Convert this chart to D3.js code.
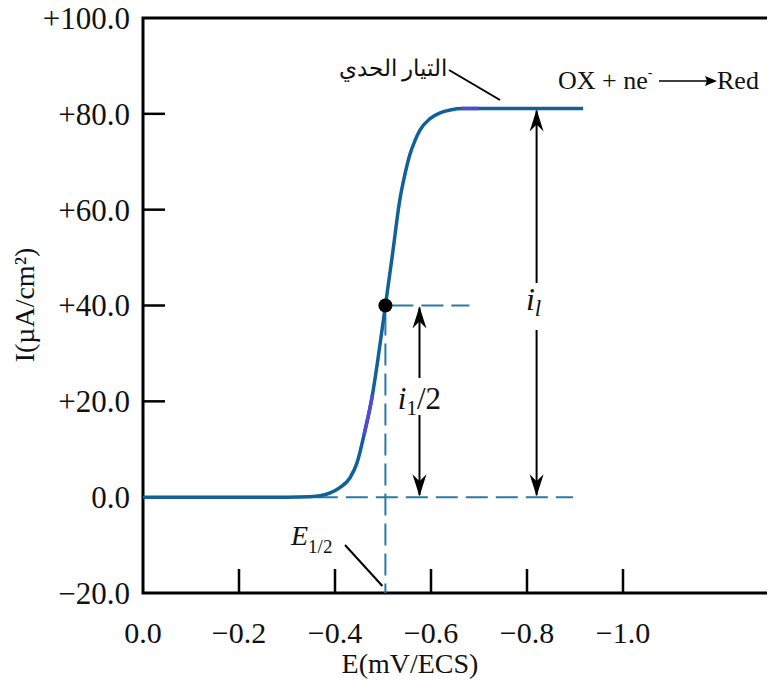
<!DOCTYPE html>
<html>
<head>
<meta charset="utf-8">
<script src="https://cdn.jsdelivr.net/npm/d3@7"></script>
<style>
  body { margin: 0; background: #fff; }
  svg { display: block; }
  text { font-family: "Liberation Serif", "Times New Roman", serif; fill: #111; }
</style>
</head>
<body>
<div id="chart"></div>
<script>
// data
var potential = [0, -0.30, -0.348, -0.369, -0.390, -0.410, -0.431, -0.446, -0.4625, -0.477, -0.49, -0.505, -0.519, -0.535, -0.546, -0.556, -0.567, -0.577, -0.598, -0.619, -0.640, -0.667, -0.917];
var current   = [0, 0, 0.1, 0.3, 0.9, 2.0, 4.0, 7.2, 13.9, 20.8, 29.2, 40, 50.1, 62, 67.5, 71.5, 74.5, 76.6, 79.0, 80.2, 80.8, 81.1, 81.1];
var highlight = [[-0.46, -0.478], [-0.662, -0.70]];   // purple bits on the curve

var xTicks = [0, -0.2, -0.4, -0.6, -0.8, -1.0];
var yTicks = [-20, 0, 20, 40, 60, 80, 100];
var yTickLabels = ['\u221220.0', '0.0', '+20.0', '+40.0', '+60.0', '+80.0', '+100.0'];
var xTickLabels = ['0.0', '\u22120.2', '\u22120.4', '\u22120.6', '\u22120.8', '\u22121.0'];

var eHalf = -0.505, iHalf = 40, iLimit = 81.1;
var eHalfArrow = -0.576, eLimitArrow = -0.82;
var baseDashEnd = -0.896, halfDashEnd = -0.68;

var W = 768, H = 683;
var svg = d3.select('#chart').append('svg').attr('width', W).attr('height', H);

var x = d3.scaleLinear().domain([0, -1.3]).range([143, 767]);
var y = d3.scaleLinear().domain([-20, 100]).range([593, 18]);

var pts = potential.map((e, i) => ({e: e, i: current[i]}));
var blue = '#10609a', dashBlue = '#2a7aa8';

// STEP 1: frame + axes
svg.append('path')
    .attr('d', `M${x(-1.3)},${y(100)}H${x(0)}V${y(-20)}H${x(-1.3)}`)
    .attr('fill', 'none').attr('stroke', '#000').attr('stroke-width', 3);

svg.selectAll('line.ytick')
    .data(yTicks.filter(d => d > 0 && d < 100))
  .enter().append('line')
    .attr('class', 'ytick')
    .attr('x1', x(0)).attr('x2', x(0) + 22)
    .attr('y1', d => y(d)).attr('y2', d => y(d))
    .attr('stroke', '#000').attr('stroke-width', 2.5);

svg.selectAll('line.xtick')
    .data(xTicks.filter(d => d !== 0))
  .enter().append('line')
    .attr('class', 'xtick')
    .attr('x1', d => x(d)).attr('x2', d => x(d))
    .attr('y1', y(-20)).attr('y2', y(-20) - 24)
    .attr('stroke', '#000').attr('stroke-width', 2.5);

svg.selectAll('text.ylab')
    .data(yTicks)
  .enter().append('text')
    .attr('class', 'ylab')
    .attr('x', 130).attr('y', d => y(d)).attr('dy', '0.35em')
    .attr('text-anchor', 'end').attr('font-size', 31)
    .text((d, i) => yTickLabels[i]);

svg.selectAll('text.xlab')
    .data(xTicks)
  .enter().append('text')
    .attr('class', 'xlab')
    .attr('x', d => x(d)).attr('y', 643)
    .attr('text-anchor', 'middle').attr('font-size', 30)
    .text((d, i) => xTickLabels[i]);

svg.append('text')
    .attr('x', 410).attr('y', 673).attr('text-anchor', 'middle').attr('font-size', 28)
    .text('E(mV/ECS)');

svg.append('text')
    .attr('transform', 'translate(34,305) rotate(-90)')
    .attr('text-anchor', 'middle').attr('font-size', 28)
    .text('I(\u00b5A/cm\u00b2)');

// STEP 2: dashed guides
var dash = '22,8';
svg.append('line')
    .attr('x1', x(-0.36)).attr('x2', x(baseDashEnd)).attr('y1', y(0)).attr('y2', y(0))
    .attr('stroke', dashBlue).attr('stroke-width', 2).attr('stroke-dasharray', dash);
svg.append('line')
    .attr('x1', x(eHalf) + 6).attr('x2', x(halfDashEnd)).attr('y1', y(iHalf)).attr('y2', y(iHalf))
    .attr('stroke', dashBlue).attr('stroke-width', 2).attr('stroke-dasharray', dash);
svg.append('line')
    .attr('x1', x(eHalf)).attr('x2', x(eHalf)).attr('y1', y(iHalf) + 8).attr('y2', y(-20))
    .attr('stroke', dashBlue).attr('stroke-width', 2).attr('stroke-dasharray', dash);

// STEP 3: curve
var line = d3.line().x(d => x(d.e)).y(d => y(d.i)).curve(d3.curveMonotoneX);
svg.append('path')
    .datum(pts)
    .attr('d', line)
    .attr('fill', 'none').attr('stroke', blue).attr('stroke-width', 3.5);

// purple bits, resampled on the same curve
var tmp = svg.append('path').datum(pts).attr('d', line).attr('fill', 'none').attr('stroke', 'none');
var node = tmp.node(), len = node.getTotalLength();
highlight.forEach(h => {
    var seg = [];
    for (var s = 0; s <= len; s += 1) {
        var p = node.getPointAtLength(s);
        if (p.x >= x(h[0]) && p.x <= x(h[1])) seg.push([p.x, p.y]);
    }
    svg.append('path').attr('d', d3.line()(seg))
        .attr('fill', 'none').attr('stroke', '#5548d6').attr('stroke-width', 3.5);
});
tmp.remove();

svg.append('circle')
    .attr('cx', x(eHalf)).attr('cy', y(iHalf)).attr('r', 7).attr('fill', '#000');

// STEP 4: arrows
function head(px, py, dir) {   // dir = -1 points up, +1 points down
    var l = 22, w = 7;
    svg.append('path')
        .attr('d', `M${px},${py}L${px - w},${py - dir * l}L${px},${py - dir * (l - 7)}L${px + w},${py - dir * l}Z`)
        .attr('fill', '#000');
}
function vArrow(e, top, bot, gapTop, gapBot) {
    var px = x(e);
    svg.append('line').attr('x1', px).attr('x2', px).attr('y1', y(top) + 2).attr('y2', gapTop)
        .attr('stroke', '#000').attr('stroke-width', 2);
    svg.append('line').attr('x1', px).attr('x2', px).attr('y1', gapBot).attr('y2', y(bot) - 2)
        .attr('stroke', '#000').attr('stroke-width', 2);
    head(px, y(top) + 1, -1);
    head(px, y(bot) - 1, 1);
}
vArrow(eHalfArrow, iHalf, 0, 378, 415);
vArrow(eLimitArrow, iLimit, 0, 283, 330);

var lab1 = svg.append('text').attr('x', x(eHalfArrow)).attr('y', 409)
    .attr('text-anchor', 'middle').attr('font-size', 31);
lab1.append('tspan').attr('font-style', 'italic').text('i');
lab1.append('tspan').attr('font-size', 21).attr('dy', 6).text('1');
lab1.append('tspan').attr('dy', -6).text('/2');

var lab2 = svg.append('text').attr('x', x(eLimitArrow) - 3).attr('y', 310)
    .attr('text-anchor', 'middle').attr('font-size', 32).attr('font-style', 'italic');
lab2.append('tspan').text('i');
lab2.append('tspan').attr('font-size', 23).attr('dy', 6).text('l');

// E1/2 label + leader
var lab3 = svg.append('text').attr('x', 291).attr('y', 545).attr('font-size', 28);
lab3.append('tspan').attr('font-style', 'italic').text('E');
lab3.append('tspan').attr('font-size', 19).attr('dy', 8).text('1/2');
svg.append('line').attr('x1', 345).attr('y1', 545).attr('x2', x(eHalf) - 3).attr('y2', y(-20) - 7)
    .attr('stroke', '#000').attr('stroke-width', 2);

// arabic limit current label
svg.append('text')
    .attr('x', 393).attr('y', 76).attr('text-anchor', 'middle')
    .attr('font-family', '"DejaVu Sans", sans-serif').attr('font-size', 23)
    .text('التيار الحدي');
svg.append('line').attr('x1', 449).attr('y1', 70).attr('x2', 500).attr('y2', 100)
    .attr('stroke', '#000').attr('stroke-width', 2);

// reaction
var rx = svg.append('text').attr('x', 558).attr('y', 89).attr('font-size', 26);
rx.append('tspan').text('OX + ne');
rx.append('tspan').attr('font-size', 14).attr('dy', -12).text('-');
svg.append('line').attr('x1', 659).attr('x2', 708).attr('y1', 81).attr('y2', 81)
    .attr('stroke', '#000').attr('stroke-width', 1.5);
svg.append('path').attr('d', 'M717,81L705,76L707,81L705,86Z').attr('fill', '#000');
svg.append('text').attr('x', 717).attr('y', 89).attr('font-size', 26).text('Red');
</script>
</body>
</html>
